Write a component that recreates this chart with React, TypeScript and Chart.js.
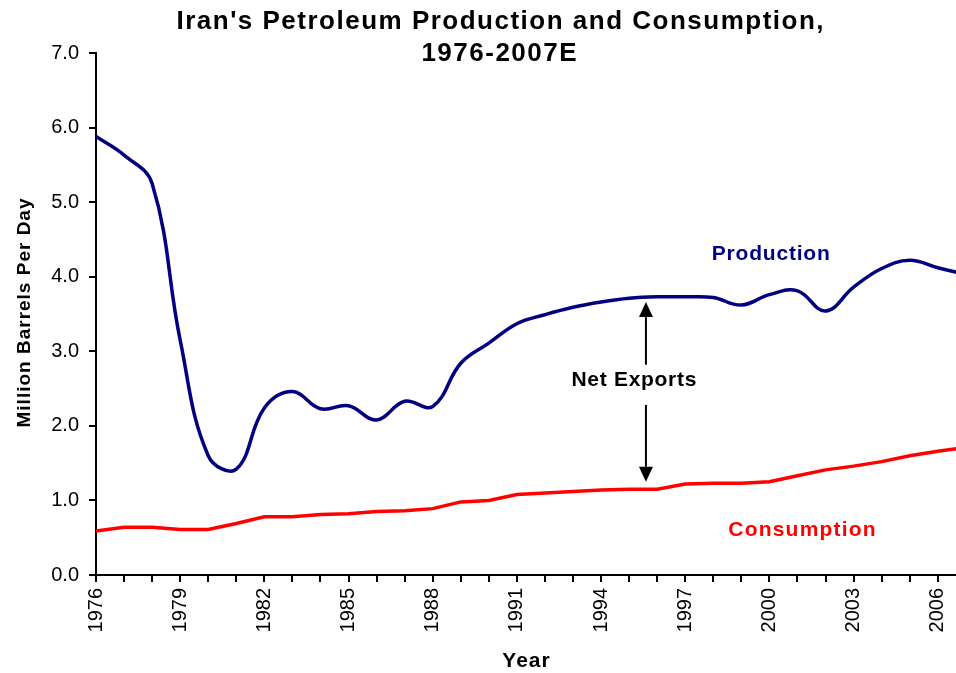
import React, { useEffect, useRef } from "react";
import { Chart, registerables } from "chart.js";

Chart.register(...registerables);

const years = [
  1976, 1977, 1978, 1979, 1980, 1981, 1982, 1983, 1984, 1985, 1986, 1987, 1988, 1989, 1990, 1991,
  1992, 1993, 1994, 1995, 1996, 1997, 1998, 1999, 2000, 2001, 2002, 2003, 2004, 2005, 2006, 2007,
];
const production = [
  5.88, 5.63, 5.25, 3.15, 1.6, 1.42, 2.24, 2.46, 2.23, 2.27, 2.08, 2.33, 2.26, 2.84, 3.11, 3.37,
  3.49, 3.59, 3.66, 3.71, 3.73, 3.73, 3.72, 3.62, 3.76, 3.81, 3.54, 3.86, 4.11, 4.22, 4.12, 4.03,
];
const consumption = [
  0.59, 0.64, 0.64, 0.61, 0.61, 0.69, 0.78, 0.78, 0.81, 0.82, 0.85, 0.86, 0.89, 0.98, 1.0, 1.08,
  1.1, 1.12, 1.14, 1.15, 1.15, 1.22, 1.23, 1.23, 1.25, 1.33, 1.41, 1.46, 1.52, 1.6, 1.66, 1.71,
];
const xTickLabels = ["1976", "1979", "1982", "1985", "1988", "1991", "1994", "1997", "2000", "2003", "2006"];
const yTickValues = [0, 1, 2, 3, 4, 5, 6, 7];

const titleLines = ["Iran's Petroleum Production and Consumption,", "1976-2007E"];
const xTitle = "Year";
const yTitle = "Million Barrels Per Day";

const FONT = 'Arial, "Liberation Sans", sans-serif';
const NAVY = "#000080";
const RED = "#FF0000";

function spacedText(ctx: any, text: string, x: number, y: number, spacing: number) {
  ctx.save();
  const hasLS = "letterSpacing" in ctx;
  ctx.textAlign = "center";
  if (hasLS) {
    ctx.letterSpacing = `${spacing}px`;
    ctx.fillText(text, x + spacing / 2, y);
  } else {
    ctx.fillText(text, x, y);
  }
  ctx.restore();
}

const textPlugin = {
  id: "textPlugin",
  afterDraw(chart: any) {
    const { ctx, scales } = chart;
    const xs = scales.x;
    const ys = scales.y;
    ctx.save();
    ctx.textBaseline = "middle";

    // Title
    ctx.fillStyle = "#000";
    ctx.font = `bold 26px ${FONT}`;
    spacedText(ctx, titleLines[0], 500, 22, 1.5);
    spacedText(ctx, titleLines[1], 499, 54, 1.5);

    // Axis titles
    ctx.font = `bold 21px ${FONT}`;
    spacedText(ctx, xTitle, 526, 661, 1);
    ctx.save();
    ctx.translate(25, 313);
    ctx.rotate(-Math.PI / 2);
    ctx.font = `bold 19px ${FONT}`;
    spacedText(ctx, yTitle, 0, 0, 1);
    ctx.restore();

    // Series labels
    ctx.font = `bold 21px ${FONT}`;
    ctx.fillStyle = NAVY;
    spacedText(ctx, "Production", xs.getPixelForValue(2000.05), ys.getPixelForValue(4.3), 0.8);
    ctx.fillStyle = RED;
    spacedText(ctx, "Consumption", xs.getPixelForValue(2001.16), ys.getPixelForValue(0.6), 1.2);
    ctx.fillStyle = "#000";
    spacedText(ctx, "Net Exports", xs.getPixelForValue(1995.17), ys.getPixelForValue(2.61), 0.7);

    // Arrows
    const ax = xs.getPixelForValue(1995.6);
    const drawArrow = (fromV: number, toV: number) => {
      const y0 = ys.getPixelForValue(fromV);
      const y1 = ys.getPixelForValue(toV);
      const dir = y1 < y0 ? -1 : 1;
      const headLen = 15;
      ctx.strokeStyle = "#000";
      ctx.lineWidth = 2;
      ctx.beginPath();
      ctx.moveTo(ax, y0);
      ctx.lineTo(ax, y1 - dir * headLen);
      ctx.stroke();
      ctx.fillStyle = "#000";
      ctx.beginPath();
      ctx.moveTo(ax, y1);
      ctx.lineTo(ax - 7, y1 - dir * headLen);
      ctx.lineTo(ax + 7, y1 - dir * headLen);
      ctx.closePath();
      ctx.fill();
    };
    drawArrow(2.82, 3.66);
    drawArrow(2.28, 1.25);
    ctx.restore();
  },
};

export default function App() {
  const ref = useRef<HTMLCanvasElement | null>(null);
  useEffect(() => {
    if (!ref.current) return;
    const chart = new Chart(ref.current, {
      type: "line",
      data: {
        datasets: [
          {
            label: "Production",
            data: years.map((y, i) => ({ x: y, y: production[i] })),
            borderColor: NAVY,
            backgroundColor: NAVY,
            borderWidth: 3.5,
            pointRadius: 0,
            tension: 0.4,
          },
          {
            label: "Consumption",
            data: years.map((y, i) => ({ x: y, y: consumption[i] })),
            borderColor: RED,
            backgroundColor: RED,
            borderWidth: 3.5,
            pointRadius: 0,
            tension: 0,
          },
        ],
      },
      options: {
        animation: false,
        responsive: true,
        maintainAspectRatio: false,
        layout: { padding: { top: 53, left: 0, right: 0, bottom: 0 } },
        plugins: { legend: { display: false }, tooltip: { enabled: false }, title: { display: false } },
        scales: {
          x: {
            type: "linear",
            min: 1976,
            max: 2006.65,
            afterBuildTicks: (scale: any) => {
              scale.ticks = years.filter((y) => y <= 2006.65).map((y) => ({ value: y }));
            },
            afterFit: (scale: any) => {
              scale.height = 98;
              scale.paddingLeft = 0;
              scale.paddingRight = 0;
            },
            ticks: {
              autoSkip: false,
              maxRotation: 90,
              minRotation: 90,
              padding: 6,
              color: "#000",
              font: { family: FONT, size: 20 },
              callback: (v: any) => (xTickLabels.includes(String(v)) ? String(v) : ""),
            },
            grid: { drawOnChartArea: false, tickLength: 7, color: "#000", lineWidth: 2 },
            border: { display: true, color: "#000", width: 2 },
          },
          y: {
            min: 0,
            max: 7,
            afterBuildTicks: (scale: any) => {
              scale.ticks = yTickValues.map((v) => ({ value: v }));
            },
            afterFit: (scale: any) => {
              scale.width = 96;
              scale.paddingTop = 0;
              scale.paddingBottom = 0;
            },
            ticks: {
              padding: 10,
              color: "#000",
              font: { family: FONT, size: 20 },
              callback: (v: any) => Number(v).toFixed(1),
            },
            grid: { drawOnChartArea: false, tickLength: 7, color: "#000", lineWidth: 2 },
            border: { display: true, color: "#000", width: 2 },
          },
        },
      },
      plugins: [textPlugin],
    });
    return () => chart.destroy();
  }, []);
  return (
    <div style={{ position: "absolute", left: 0, top: 0, width: 956, height: 673, background: "#fff" }}>
      <canvas ref={ref} />
    </div>
  );
}
